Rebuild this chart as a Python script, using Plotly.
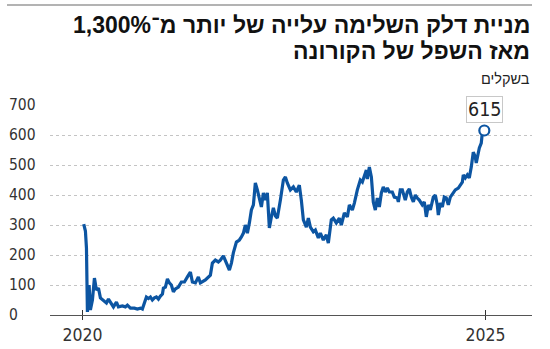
import pandas as pd
import plotly.graph_objects as go

# Decimal-year positions and share price (ILS)
years = [2020.016, 2020.037, 2020.050, 2020.062, 2020.083, 2020.099, 2020.124, 2020.149, 2020.174, 2020.199,
         2020.223, 2020.261, 2020.298, 2020.323, 2020.360, 2020.385, 2020.422, 2020.447, 2020.496, 2020.533,
         2020.558, 2020.596, 2020.645, 2020.682, 2020.720, 2020.744, 2020.769, 2020.794, 2020.819, 2020.844,
         2020.868, 2020.893, 2020.918, 2020.943, 2020.968, 2020.993, 2021.005, 2021.030, 2021.055, 2021.079,
         2021.104, 2021.129, 2021.154, 2021.191, 2021.228, 2021.266, 2021.303, 2021.340, 2021.365, 2021.402,
         2021.439, 2021.464, 2021.526, 2021.588, 2021.613, 2021.650, 2021.687, 2021.712, 2021.749, 2021.787,
         2021.824, 2021.849, 2021.873, 2021.911, 2021.948, 2021.973, 2021.998, 2022.022, 2022.047, 2022.072,
         2022.097, 2022.122, 2022.146, 2022.171, 2022.196, 2022.221, 2022.246, 2022.270, 2022.295, 2022.320,
         2022.345, 2022.370, 2022.395, 2022.419, 2022.457, 2022.494, 2022.519, 2022.543, 2022.581, 2022.618,
         2022.655, 2022.692, 2022.717, 2022.742, 2022.779, 2022.804, 2022.829, 2022.866, 2022.891, 2022.928,
         2022.953, 2022.990, 2023.027, 2023.052, 2023.089, 2023.114, 2023.151, 2023.189, 2023.213, 2023.251,
         2023.288, 2023.313, 2023.350, 2023.375, 2023.412, 2023.449, 2023.474, 2023.499, 2023.524, 2023.536,
         2023.561, 2023.586, 2023.610, 2023.635, 2023.660, 2023.685, 2023.710, 2023.734, 2023.759, 2023.784,
         2023.809, 2023.846, 2023.871, 2023.908, 2023.921, 2023.945, 2023.970, 2024.007, 2024.032, 2024.057,
         2024.082, 2024.107, 2024.132, 2024.156, 2024.181, 2024.218, 2024.243, 2024.268, 2024.293, 2024.318,
         2024.355, 2024.380, 2024.404, 2024.417, 2024.442, 2024.467, 2024.491, 2024.516, 2024.541, 2024.566,
         2024.603, 2024.628, 2024.665, 2024.690, 2024.715, 2024.727, 2024.752, 2024.777, 2024.801, 2024.826,
         2024.851, 2024.876, 2024.888, 2024.913, 2024.926, 2024.950, 2024.963, 2024.988]
prices = [303, 280, 223, 10, 100, 17, 50, 123, 83, 90,
          57, 50, 40, 53, 37, 27, 43, 27, 30, 27,
          33, 23, 23, 20, 23, 20, 40, 60, 55, 60,
          50, 57, 60, 53, 63, 70, 90, 93, 120, 107,
          100, 77, 87, 93, 110, 110, 127, 143, 110, 107,
          127, 107, 117, 133, 173, 183, 177, 183, 197, 173,
          150, 173, 207, 243, 250, 260, 273, 300, 273, 307,
          350, 367, 440, 417, 393, 360, 407, 383, 407, 290,
          327, 357, 330, 323, 383, 450, 460, 440, 417, 427,
          410, 433, 383, 317, 293, 323, 293, 277, 283, 257,
          273, 250, 267, 240, 317, 323, 307, 323, 300, 340,
          327, 367, 350, 373, 417, 450, 443, 460, 483, 453,
          493, 460, 377, 350, 390, 360, 407, 427, 410, 423,
          410, 410, 393, 390, 377, 417, 417, 383, 410, 420,
          393, 377, 400, 390, 383, 367, 377, 327, 367, 350,
          393, 400, 367, 333, 373, 360, 393, 390, 367, 393,
          410, 417, 423, 433, 443, 467, 457, 467, 457, 493,
          543, 527, 507, 540, 557, 573, 607, 615]

xtick_vals = ["2020-01-01", "2025-01-01"]
xtick_text = ["2020", "2025"]
ytick_vals = [0, 100, 200, 300, 400, 500, 600, 700]

title_line1 = "מניית דלק השלימה עלייה של יותר מ־1,300%"
title_line2 = "מאז השפל של הקורונה"
subtitle_text = "בשקלים"

base = pd.Timestamp("2020-01-01")
dates = [base + pd.to_timedelta((y - 2020) * 365.25, unit="D") for y in years]

LINE = "#0c55a2"
NUM_FONT = "Liberation Sans Narrow, DejaVu Sans Condensed, Roboto, sans-serif"
HEB_FONT = "Liberation Sans, DejaVu Sans, sans-serif"

fig = go.Figure()
fig.add_trace(go.Scatter(x=dates, y=prices, mode="lines",
                         line=dict(color=LINE, width=3.2), hoverinfo="skip"))
fig.add_trace(go.Scatter(x=[dates[-1]], y=[prices[-1]], mode="markers",
                         marker=dict(size=10, color="white", line=dict(color=LINE, width=2.2)),
                         hoverinfo="skip"))
fig.add_trace(go.Scatter(x=[dates[0]], y=[None], xaxis="x2", showlegend=False, hoverinfo="skip"))

annotations = []
for v in ytick_vals:
    annotations.append(dict(x=-0.0892, xref="paper", y=v, yref="y", text=str(v), showarrow=False,
                            xanchor="left", yanchor="middle",
                            font=dict(family=NUM_FONT, size=15.5, color="#333")))
annotations.append(dict(x=dates[-1], y=prices[-1], text=str(prices[-1]), showarrow=False,
                        yanchor="bottom", yshift=8, bordercolor="#c8c8c8", borderwidth=1,
                        borderpad=1, bgcolor="white",
                        font=dict(family=NUM_FONT, size=19.5, color="#222")))
annotations.append(dict(x=1.0, xref="paper", y=(315 - 25) / 210, yref="paper", text=title_line1,
                        showarrow=False, xanchor="right", yanchor="middle", align="right",
                        font=dict(family=HEB_FONT, size=23, color="#111", weight="bold")))
annotations.append(dict(x=1.0, xref="paper", y=(315 - 51) / 210, yref="paper", text=title_line2,
                        showarrow=False, xanchor="right", yanchor="middle", align="right",
                        font=dict(family=HEB_FONT, size=23, color="#111", weight="bold")))
annotations.append(dict(x=1.0, xref="paper", y=(315 - 78.5) / 210, yref="paper", text=subtitle_text,
                        showarrow=False, xanchor="right", yanchor="middle", align="right",
                        font=dict(family=HEB_FONT, size=14.5, color="#222")))

fig.update_layout(
    width=550, height=349,
    margin=dict(l=50, r=18, t=105, b=34, autoexpand=False),
    paper_bgcolor="white", plot_bgcolor="white",
    showlegend=False,
    annotations=annotations,
    shapes=[dict(type="line", xref="paper", yref="paper", x0=-0.0892, x1=1.0, y0=1.476, y1=1.476,
                 line=dict(color="#9a9a9a", width=1.6))],
    xaxis=dict(type="date", range=["2019-08-07", "2025-07-31"], tickvals=xtick_vals, ticktext=xtick_text,
               ticks="outside", ticklen=4, tickcolor="#333", tickwidth=1.2, automargin=False,
               showline=True, linecolor="#555", linewidth=1.2, showgrid=False, zeroline=False,
               tickfont=dict(family=NUM_FONT, size=17.5, color="#333")),
    xaxis2=dict(type="date", overlaying="x", matches="x", anchor="y", side="bottom",
                tickvals=xtick_vals, ticks="inside", ticklen=5, tickcolor="#333", tickwidth=1.2,
                showticklabels=False, showgrid=False, showline=False, zeroline=False, automargin=False),
    yaxis=dict(range=[0, 700], tickvals=ytick_vals, showticklabels=False, ticks="", automargin=False,
               showgrid=True, gridcolor="#c4c4c4", griddash="dot", gridwidth=1,
               zeroline=False, showline=False),
)

fig.write_html("out.html")
